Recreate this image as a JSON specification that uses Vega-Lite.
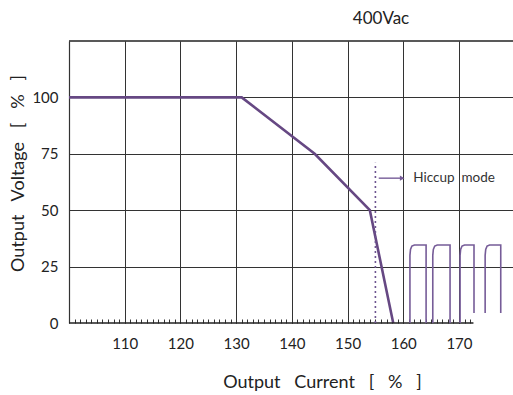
{
  "$schema": "https://vega.github.io/schema/vega-lite/v6.json",
  "width": 444,
  "height": 282,
  "autosize": {"type": "none"},
  "padding": {"left": 69, "top": 41, "right": 0, "bottom": 72},
  "config": {"view": {"stroke": null}, "font": "Lato", "text": {"font": "Lato"}},
  "title": {"text": "400Vac", "anchor": "middle", "frame": "group", "dx": 90, "offset": 12, "fontSize": 17, "fontWeight": "normal", "color": "#222", "font": "Lato"},
  "datasets": {
    "curve": [
      {"x": 100, "y": 100},
      {"x": 131, "y": 100},
      {"x": 144.1, "y": 75},
      {"x": 154, "y": 50},
      {"x": 158.2, "y": 0}
    ],
    "pulses": [
      {"p": 1, "i": 1, "x": 161.2, "y": 0},
      {"p": 1, "i": 2, "x": 161.2, "y": 30},
      {"p": 1, "i": 3, "x": 161.3, "y": 32.6},
      {"p": 1, "i": 4, "x": 161.55, "y": 34.1},
      {"p": 1, "i": 5, "x": 162.0, "y": 34.6},
      {"p": 1, "i": 6, "x": 164.1, "y": 34.6},
      {"p": 1, "i": 7, "x": 164.1, "y": 0},
      {"p": 2, "i": 1, "x": 165.3, "y": 0},
      {"p": 2, "i": 2, "x": 165.3, "y": 30},
      {"p": 2, "i": 3, "x": 165.4, "y": 32.6},
      {"p": 2, "i": 4, "x": 165.65, "y": 34.1},
      {"p": 2, "i": 5, "x": 166.1, "y": 34.6},
      {"p": 2, "i": 6, "x": 168.4, "y": 34.6},
      {"p": 2, "i": 7, "x": 168.4, "y": 0},
      {"p": 3, "i": 1, "x": 170.2, "y": 0},
      {"p": 3, "i": 2, "x": 170.2, "y": 30},
      {"p": 3, "i": 3, "x": 170.3, "y": 32.6},
      {"p": 3, "i": 4, "x": 170.55, "y": 34.1},
      {"p": 3, "i": 5, "x": 171.0, "y": 34.6},
      {"p": 3, "i": 6, "x": 172.7, "y": 34.6},
      {"p": 3, "i": 7, "x": 172.7, "y": 4.4},
      {"p": 4, "i": 1, "x": 174.7, "y": 4.4},
      {"p": 4, "i": 2, "x": 174.7, "y": 30},
      {"p": 4, "i": 3, "x": 174.8, "y": 32.6},
      {"p": 4, "i": 4, "x": 175.05, "y": 34.1},
      {"p": 4, "i": 5, "x": 175.5, "y": 34.6},
      {"p": 4, "i": 6, "x": 177.5, "y": 34.6},
      {"p": 4, "i": 7, "x": 177.5, "y": 4.4}
    ],
    "borders": [
      {"x": 100, "x2": 172.6, "y": 0},
      {"x": 100, "x2": 179.7, "y": 125}
    ],
    "dotted": [{"x": 155, "y": 0, "y2": 71}],
    "arrow": [{"x": 155.6, "x2": 159.6, "y": 64.2}],
    "head": [{"x": 159.8, "y": 64.2}],
    "label": [{"x": 161.8, "y": 64.2, "t": "Hiccup\u00a0\u00a0mode"}]
  },
  "resolve": {"axis": {"x": "independent"}},
  "layer": [
    {
      "data": {"name": "curve"},
      "mark": {"type": "line", "color": "#664883", "strokeWidth": 2.6},
      "encoding": {
        "x": {"field": "x", "type": "quantitative",
          "scale": {"domain": [100, 179.7], "nice": false, "zero": false},
          "axis": {"orient": "bottom", "values": [110, 120, 130, 140, 150, 160, 170], "grid": true, "gridColor": "#333", "gridWidth": 1, "gridOpacity": 1,
            "domain": false, "ticks": false, "labelFontSize": 15, "labelPadding": 13, "labelColor": "#222", "labelFont": "Lato",
            "title": "Output\u00a0\u00a0\u00a0Current\u00a0\u00a0\u00a0[\u00a0\u00a0\u00a0%\u00a0\u00a0\u00a0]", "titleFontSize": 18, "titleFontWeight": "normal", "titleColor": "#222", "titleFont": "Lato",
            "titleX": 253, "titleY": 59, "titleBaseline": "middle", "titleAlign": "center"}},
        "y": {"field": "y", "type": "quantitative",
          "scale": {"domain": [0, 125], "nice": false},
          "axis": {"values": [0, 25, 50, 75, 100], "grid": true, "gridColor": "#333", "gridWidth": 1,
            "gridOpacity": {"condition": {"test": "datum.value == 0", "value": 0}, "value": 1},
            "domain": true, "domainColor": "#333", "domainWidth": 1.2, "ticks": false,
            "labelFontSize": 15, "labelPadding": 11, "labelColor": "#222", "labelFont": "Lato",
            "title": "Output\u00a0\u00a0\u00a0Voltage\u00a0\u00a0\u00a0[\u00a0\u00a0\u00a0%\u00a0\u00a0\u00a0]", "titleFontSize": 18, "titleFontWeight": "normal", "titleColor": "#222", "titleFont": "Lato",
            "titleX": -51, "titleY": 132, "titleAngle": 270, "titleAlign": "center", "titleBaseline": "middle"}}
      }
    },
    {
      "data": {"name": "borders"},
      "mark": {"type": "rule", "color": "#222", "strokeWidth": 1.3},
      "encoding": {
        "x": {"field": "x", "type": "quantitative",
          "axis": {"orient": "bottom", "values": [101,102,103,104,105,106,107,108,109,110,111,112,113,114,115,116,117,118,119,120,121,122,123,124,125,126,127,128,129,130,131,132,133,134,135,136,137,138,139,140,141,142,143,144,145,146,147,148,149,150,151,152,153,154,155,156,157,158,159,160,161,162,163,164,165,166,167,168,169,170,171,172],
            "offset": -4, "tickSize": 4, "tickColor": "#333", "tickWidth": 1, "labels": false, "domain": false, "grid": false, "title": null}},
        "x2": {"field": "x2"},
        "y": {"field": "y", "type": "quantitative"}
      }
    },
    {
      "data": {"name": "dotted"},
      "mark": {"type": "rule", "color": "#6e5590", "strokeWidth": 1.6, "strokeDash": [2, 3]},
      "encoding": {
        "x": {"field": "x", "type": "quantitative", "axis": null},
        "y": {"field": "y", "type": "quantitative"},
        "y2": {"field": "y2"}
      }
    },
    {
      "data": {"name": "pulses"},
      "mark": {"type": "line", "color": "#765c98", "strokeWidth": 1.6},
      "encoding": {
        "x": {"field": "x", "type": "quantitative", "axis": null},
        "y": {"field": "y", "type": "quantitative"},
        "detail": {"field": "p"},
        "order": {"field": "i"}
      }
    },
    {
      "data": {"name": "arrow"},
      "mark": {"type": "rule", "color": "#765c98", "strokeWidth": 1.4},
      "encoding": {
        "x": {"field": "x", "type": "quantitative", "axis": null},
        "x2": {"field": "x2"},
        "y": {"field": "y", "type": "quantitative"}
      }
    },
    {
      "data": {"name": "head"},
      "mark": {"type": "point", "shape": "triangle-right", "filled": true, "color": "#765c98", "size": 28, "opacity": 1},
      "encoding": {
        "x": {"field": "x", "type": "quantitative", "axis": null},
        "y": {"field": "y", "type": "quantitative"}
      }
    },
    {
      "data": {"name": "label"},
      "mark": {"type": "text", "align": "left", "baseline": "middle", "fontSize": 13.5, "color": "#333", "font": "Lato"},
      "encoding": {
        "x": {"field": "x", "type": "quantitative", "axis": null},
        "y": {"field": "y", "type": "quantitative"},
        "text": {"field": "t"}
      }
    }
  ]
}
